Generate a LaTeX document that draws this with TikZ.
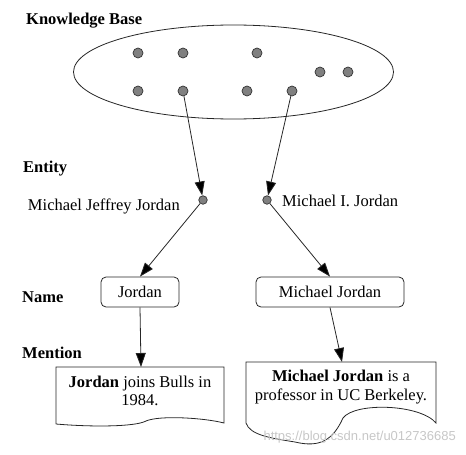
\documentclass[tikz,border=0pt]{standalone}
\usepackage{fontspec}
\setmainfont{Liberation Serif}
\newfontfamily\wmfont{Liberation Sans}
\usetikzlibrary{arrows.meta}
\tikzset{
  lbl/.style={font=\fontsize{16.5}{18}\selectfont\bfseries, anchor=west, inner sep=0pt},
  txt/.style={font=\fontsize{16.5}{18.5}\selectfont, inner sep=0pt},
  kbdot/.style={circle, draw=black!80, fill=black!50, line width=0.7pt, minimum size=10pt, inner sep=0pt},
  endot/.style={circle, draw=black!80, fill=black!50, line width=0.7pt, minimum size=8.5pt, inner sep=0pt},
  namebox/.style={draw=black!85, line width=0.8pt, rounded corners=5pt, minimum height=30pt, inner sep=0pt, font=\fontsize{16.5}{18}\selectfont},
  link/.style={draw=black!85, line width=0.8pt, -{Triangle[length=14pt,width=10pt,fill=black]}},
  doc/.style={draw=black!85, line width=0.8pt}
}
\begin{document}
\begin{tikzpicture}[x=1pt,y=-1pt]
\useasboundingbox (0,0) rectangle (466,455);
% knowledge base
\node[lbl] (kbl) at (26,21) {Knowledge Base};
\draw[line width=0.8pt, draw=black!85] (233.5,72) ellipse [x radius=160, y radius=47];
\node[kbdot] (d1) at (138,53) {};
\node[kbdot] (d2) at (183,53) {};
\node[kbdot] (d3) at (257,53) {};
\node[kbdot] (d4) at (320,72) {};
\node[kbdot] (d5) at (348,72) {};
\node[kbdot] (d6) at (138,91) {};
\node[kbdot] (d7) at (183,91) {};
\node[kbdot] (d8) at (247,91) {};
\node[kbdot] (d9) at (292,91) {};
% entity
\node[lbl] (entl) at (23,169) {Entity};
\node[endot] (e1) at (203,200) {};
\node[endot] (e2) at (267,200) {};
\node[txt, anchor=east] (e1t) at (180,206) {Michael Jeffrey Jordan};
\node[txt, anchor=west] (e2t) at (282,201) {Michael I. Jordan};
% names
\node[lbl] (namel) at (22,297) {Name};
\node[namebox, minimum width=78pt] (n1) at (140,292) {Jordan};
\node[namebox, minimum width=148pt] (n2) at (330,292) {Michael Jordan};
% mention
\node[lbl] (menl) at (22,353) {Mention};
\node[txt, align=center] (m1) at (140,391) {\textbf{Jordan} joins Bulls in\\1984.};
\node[txt, align=center] (m2) at (341,387) {\textbf{Michael Jordan} is a\\professor in UC Berkeley.};
\coordinate (m1top) at (141,367);
\coordinate (m2top) at (342,362);
\draw[doc] (56,424) -- (56,367) -- (224,367) -- (224,423)
  .. controls (205,418) and (160,415) .. (146,421)
  .. controls (135,427) and (90,427) .. (56,424);
\draw[doc] (246,423) -- (246,362) -- (436,362) -- (436,423)
  .. controls (420,404) and (355,402) .. (343,418)
  .. controls (333,440) and (320,448) .. (295,442)
  .. controls (270,438) and (250,435) .. (246,423);
% connectors
\draw[link] (d7) -- (e1);
\draw[link] (d9) -- (e2);
\draw[link] (e1) -- (n1.north);
\draw[link] (e2) -- (n2.north);
\draw[link] (n1.south) -- (m1top);
\draw[link] (n2.south) -- (m2top);
% watermark
\node[font=\wmfont\fontsize{13}{15}\selectfont, text=black!22, anchor=east, inner sep=0pt] (wm) at (456,437) {https://blog.csdn.net/u012736685};
\end{tikzpicture}
\end{document}
